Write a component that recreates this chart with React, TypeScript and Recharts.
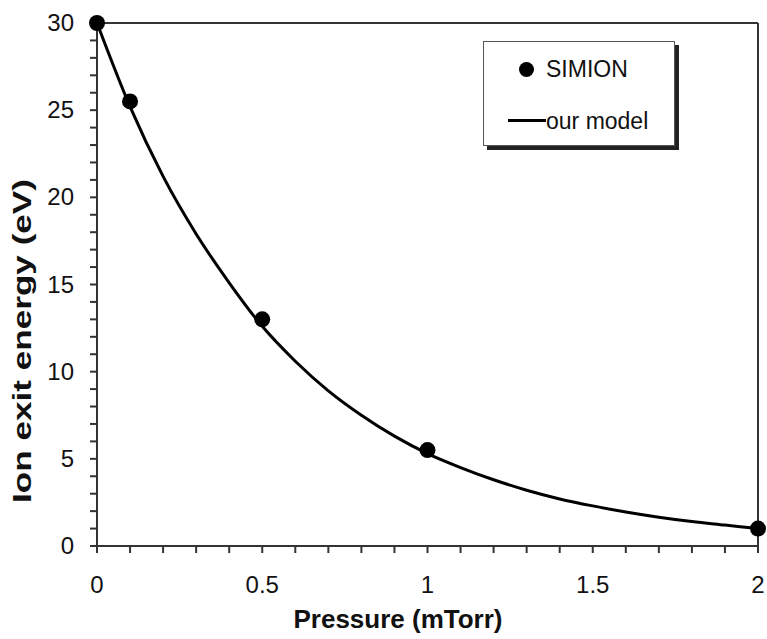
import { ComposedChart, Line, Scatter, XAxis, YAxis, ReferenceLine } from 'recharts'

// SIMION simulation points
const SIMION_P = [0, 0.1, 0.5, 1, 2]
const SIMION_E = [30, 25.5, 13, 5.5, 1]

// model curve, every 0.1 mTorr
const MODEL_P = [0, 0.1, 0.2, 0.3, 0.4, 0.5, 0.6, 0.7, 0.8, 0.9, 1, 1.1, 1.2, 1.3, 1.4, 1.5, 1.6, 1.7, 1.8, 1.9, 2]
const MODEL_E = [30, 25.2, 21.2, 17.9, 15.1, 12.6, 10.6, 8.9, 7.5, 6.3, 5.3, 4.5, 3.8, 3.2, 2.7, 2.3, 1.95, 1.65, 1.4, 1.2, 1.0]

// tick positions (minor) and labelled ticks
const X_TICKS = [0, 0.1, 0.2, 0.3, 0.4, 0.5, 0.6, 0.7, 0.8, 0.9, 1, 1.1, 1.2, 1.3, 1.4, 1.5, 1.6, 1.7, 1.8, 1.9, 2]
const X_LABELS = [0, 0.5, 1, 1.5, 2]
const Y_TICKS = [0, 1, 2, 3, 4, 5, 6, 7, 8, 9, 10, 11, 12, 13, 14, 15, 16, 17, 18, 19, 20, 21, 22, 23, 24, 25, 26, 27, 28, 29, 30]
const Y_LABELS = [0, 5, 10, 15, 20, 25, 30]

const FONT = '"Liberation Sans", Arial, sans-serif'
const AXIS = '#333'

const simion = SIMION_P.map((p, i) => ({ p, e: SIMION_E[i] }))
const model = MODEL_P.map((p, i) => ({ p, e: MODEL_E[i] }))

const near = (list: number[], v: number) => list.some(l => Math.abs(l - v) < 1e-6)

const XTick = (props: any) => {
  const { x, y, payload } = props
  if (!near(X_LABELS, payload.value)) return null
  return (
    <text x={x} y={y} dy={38} textAnchor="middle" fontSize={24} fontFamily={FONT} fill="#111">
      {payload.value}
    </text>
  )
}

const YTick = (props: any) => {
  const { x, y, payload } = props
  if (!near(Y_LABELS, payload.value)) return null
  return (
    <text x={x} y={y} dx={-14} dy={8} textAnchor="end" fontSize={24} fontFamily={FONT} fill="#111">
      {payload.value}
    </text>
  )
}

const Dot = (props: any) => <circle cx={props.cx} cy={props.cy} r={8} fill="#000" />

export default function App() {
  return (
    <div style={{ position: 'absolute', left: 0, top: 0, width: 767, height: 639, background: '#fff', fontFamily: FONT }}>
      <ComposedChart width={767} height={639} margin={{ top: 23, right: 9, bottom: 33, left: 0 }}>
        <XAxis
          type="number"
          dataKey="p"
          domain={[0, 2]}
          ticks={X_TICKS}
          interval={0}
          height={60}
          stroke={AXIS}
          strokeWidth={2}
          tickSize={7}
          tick={<XTick />}
          label={{
            content: () => (
              <text x={398} y={628} textAnchor="middle" fontSize={26} fontWeight="bold" fontFamily={FONT} fill="#111">
                Pressure (mTorr)
              </text>
            ),
          }}
        />
        <YAxis
          type="number"
          dataKey="e"
          domain={[0, 30]}
          ticks={Y_TICKS}
          interval={0}
          width={97}
          stroke={AXIS}
          strokeWidth={2}
          tickSize={7}
          tick={<YTick />}
          label={{
            content: () => (
              <text
                x={0}
                y={0}
                transform="translate(31 341) rotate(-90)"
                textAnchor="middle"
                fontSize={26}
                fontWeight="bold"
                fontFamily={FONT}
                fill="#111"
                textLength={324}
                lengthAdjust="spacingAndGlyphs"
              >
                Ion exit energy (eV)
              </text>
            ),
          }}
        />
        <ReferenceLine y={30} stroke={AXIS} strokeWidth={2} />
        <ReferenceLine x={2} stroke={AXIS} strokeWidth={2} />
        <Line
          data={model}
          dataKey="e"
          type="monotone"
          stroke="#000"
          strokeWidth={3}
          dot={false}
          isAnimationActive={false}
        />
        <Scatter data={simion} dataKey="e" fill="#000" shape={<Dot />} isAnimationActive={false} />
      </ComposedChart>

      {/* legend box with shadow */}
      <div
        style={{
          position: 'absolute',
          left: 483,
          top: 41,
          width: 190,
          height: 103,
          border: '1px solid #555',
          boxShadow: '4px 4px 0 #222',
          background: '#fff',
          fontSize: 23,
          color: '#111',
        }}
      >
        <div style={{ position: 'absolute', left: 35, top: 20, width: 15, height: 15, borderRadius: '50%', background: '#000' }} />
        <div style={{ position: 'absolute', left: 62, top: 14, lineHeight: '26px' }}>SIMION</div>
        <div style={{ position: 'absolute', left: 24, top: 77, width: 38, height: 3, background: '#000' }} />
        <div style={{ position: 'absolute', left: 62, top: 66, lineHeight: '26px' }}>our model</div>
      </div>
    </div>
  )
}
